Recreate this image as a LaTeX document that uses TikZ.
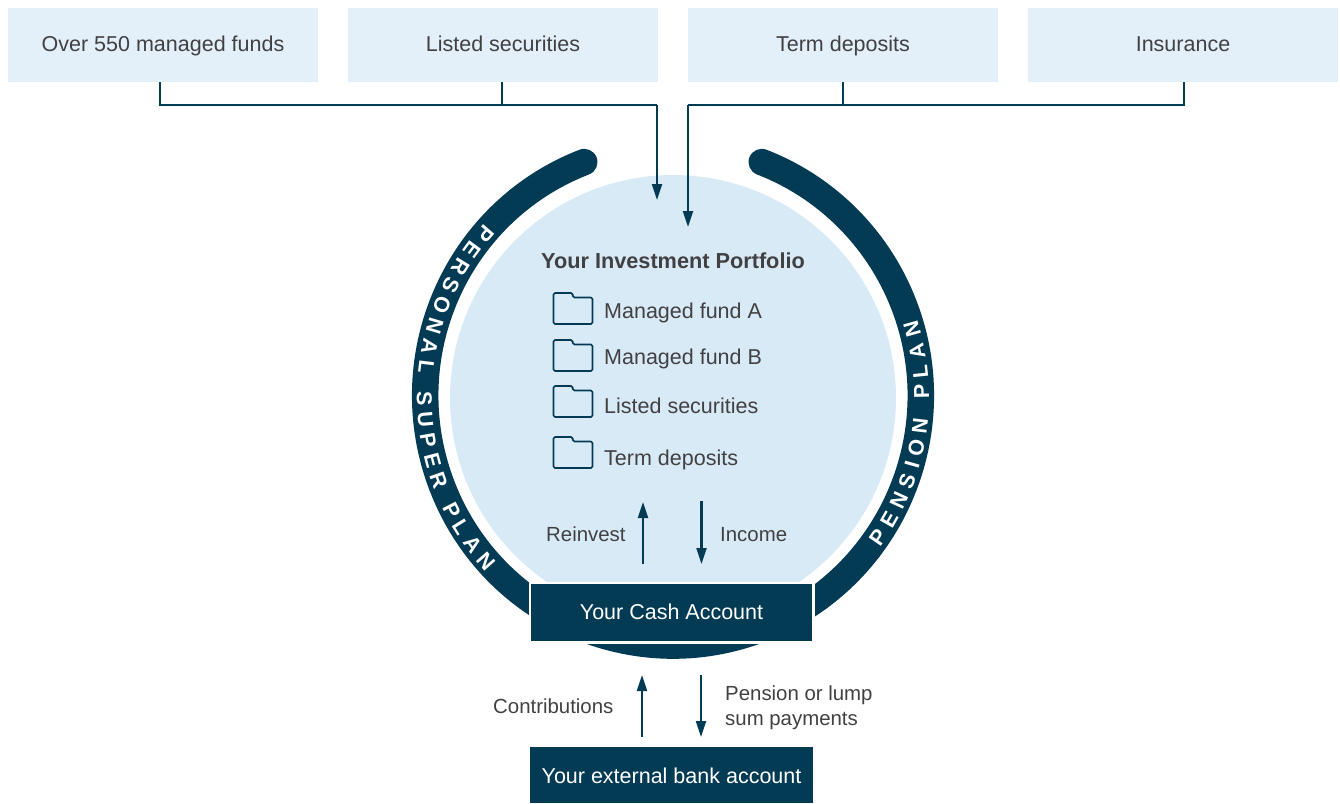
\documentclass[tikz,border=0pt]{standalone}
\usepackage{fontspec}
\setmainfont{Liberation Sans}
\usetikzlibrary{arrows.meta,decorations.text}
\definecolor{navy}{HTML}{033B55}
\definecolor{pale}{HTML}{E3F0F9}
\definecolor{disc}{HTML}{D9EAF7}
\definecolor{ink}{HTML}{414042}
\newcommand{\tsize}{\fontsize{21.5}{25}\selectfont}
\newcommand{\lsize}{\fontsize{20.4}{25}\selectfont}
\tikzset{
  x=1pt,y=-1pt,
  topbox/.style={fill=pale,minimum width=310pt,minimum height=74pt,inner sep=0pt,text=ink,font=\tsize,text height=12pt,text depth=0pt},
  darkbox/.style={fill=navy,minimum width=281pt,inner sep=0pt,text=white,font=\tsize,text depth=0pt},
  lab/.style={anchor=base west,inner sep=0pt,text=ink,font=\tsize},
  minor/.style={lab,font=\lsize},
  link/.style={draw=navy,line width=2.2pt,line join=miter},
  flow/.style={link,-{Triangle[width=10pt,length=16pt]}},
  folder/.style={draw=navy,line width=1.7pt,line join=round,rounded corners=1.5pt},
  ringtext/.style={decorate,decoration={text along path,text align=fit to path,
    text={|\fontsize{21.5}{22}\selectfont\bfseries\color{white}|#1}}}
}
\begin{document}
\begin{tikzpicture}
\useasboundingbox (0,0) rectangle (1340,803);
\coordinate (c) at (673,398);
\coordinate (rc) at (673,395.5);
\coordinate (tc) at (673,397);
% disc and ring
\node[circle,fill=disc,minimum size=446pt,inner sep=0pt] (disc) at (c) {};
\draw[navy,line width=26.5pt,line cap=round] ([shift={(111:247.75pt and 250pt)}]rc) arc[start angle=111,end angle=429,x radius=247.75pt,y radius=250pt];
\path[ringtext={PERSONAL SUPER PLAN}] ([shift={(137.5:256pt)}]tc) arc[start angle=137.5,end angle=223,radius=256pt];
\path[ringtext={PENSION PLAN}] ([shift={(-36:256pt)}]tc) arc[start angle=-36,end angle=17.5,radius=256pt];
% top boxes
\node[topbox] (b1) at (163,45) {Over 550 managed funds};
\node[topbox] (b2) at (503,45) {Listed securities};
\node[topbox] (b3) at (843,45) {Term deposits};
\node[topbox] (b4) at (1183,45) {Insurance};
% connectors from the top
\coordinate (jl) at (657,105);
\coordinate (jr) at (688,105);
\coordinate (tl) at (657,200);
\coordinate (tr) at (688,227);
\draw[link] (160,0 |- b1.south) |- (jl);
\draw[link] (502,0 |- b2.south) -- (502,0 |- jl);
\draw[flow] (jl) -- (tl);
\draw[link] (1184,0 |- b4.south) |- (jr);
\draw[link] (b3.south) -- (b3.south |- jr);
\draw[flow] (jr) -- (tr);
% portfolio
\node[anchor=base,inner sep=0pt,text=ink,font=\bfseries\fontsize{21.7}{25}\selectfont] (title) at (673,268) {Your Investment Portfolio};
\foreach \n/\y/\t/\b in {fa/293/Managed fund A/318,fb/340/Managed fund B/364,fc/386/Listed securities/413,fd/437/Term deposits/465}{
  \draw[folder] (553.5,\y+31) -- (553.5,\y) -- (572.5,\y) -- (573,\y+4.5) -- (592.5,\y+4.5) -- (592.5,\y+31) -- cycle;
  \node[lab] (\n) at (604,\b) {\t};
}
% cash account
\node[minor] (reinvest) at (546,541) {Reinvest};
\node[minor] (income) at (720,541) {Income};
\coordinate (ra) at (643,564); \coordinate (rb) at (643,502);
\coordinate (ia) at (701.5,501); \coordinate (ib) at (701.5,564);
\draw[flow] (ra) -- (rb);
\draw[flow] (ia) -- (ib);
\node[darkbox,minimum height=59.5pt,draw=white,line width=2.5pt,minimum width=283.5pt,text height=14pt] (cash) at (671.5,612.5) {Your Cash Account};
% bottom
\node[darkbox,minimum width=283pt,minimum height=56pt,text height=16pt] (bank) at (671.5,775) {Your external bank account};
\draw[flow] (642,737) -- (642,675);
\draw[flow] (701,675) -- (701,737);
\node[minor] (contrib) at (493,713) {Contributions};
\node[minor] (pay1) at (725,700) {Pension or lump};
\node[minor] (pay2) at (725,725) {sum payments};
\end{tikzpicture}
\end{document}
